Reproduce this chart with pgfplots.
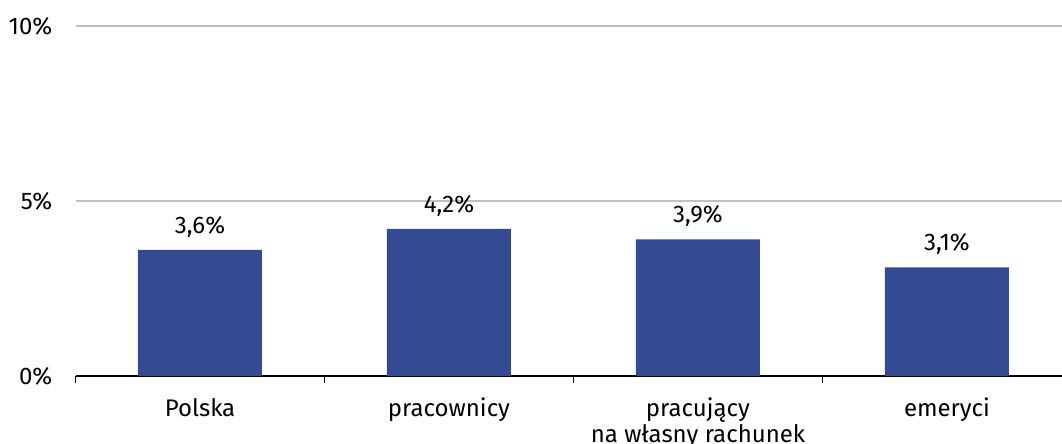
\documentclass[border=0pt]{standalone}
\usepackage{pgfplots}
\pgfplotsset{compat=1.18}
\usepackage{fontspec}
\setmainfont{Fira Sans}
\definecolor{barblue}{RGB}{52,75,147}
\definecolor{gridgray}{RGB}{192,192,192}
\begin{document}
\fontsize{24}{26}\selectfont
\begin{tikzpicture}
\useasboundingbox (0,0) rectangle (1062pt,444pt);
\begin{axis}[
  at={(75.5pt,68pt)}, anchor=south west,
  scale only axis, width=986.5pt, height=350pt,
  xmin=-0.5, xmax=3.462, ymin=0, ymax=10,
  /pgf/number format/assume math mode=true,
  axis x line=bottom, axis y line=left,
  y axis line style={draw=none},
  x axis line style={-, black, line width=1.5pt},
  xtick={0,1,2,3},
  xticklabels={{\strut Polska},{\strut pracownicy},{\strut pracujący\\na własny rachunek},{\strut emeryci}},
  xticklabel style={align=center, anchor=north, inner sep=0pt, yshift=-21.8pt, font=\fontsize{24}{26}\selectfont},
  major tick length=0pt,
  extra x ticks={-0.5,0.5,1.5,2.5},
  extra x tick labels={},
  extra x tick style={tick align=outside, major tick length=7pt, tick style={black, line width=1.5pt}},
  ytick={0,5,10},
  yticklabel={\pgfmathprintnumber{\tick}\%},
  yticklabel style={anchor=east, inner sep=0pt, xshift=-23pt, font=\fontsize{24}{26}\selectfont},
  ymajorgrids, grid style={gridgray, line width=1.5pt},
  ybar, bar width=124pt,
  nodes near coords={\pgfmathprintnumber[fixed,fixed zerofill,precision=1,use comma]{\pgfplotspointmeta}\%},
  every node near coord/.append style={anchor=base, inner sep=0pt, yshift=16.5pt, font=\fontsize{24}{26}\selectfont, black},
]
\addplot[fill=barblue, draw=none] coordinates {(0,3.6) (1,4.2) (2,3.9) (3,3.1)};
\end{axis}
\end{tikzpicture}
\end{document}
